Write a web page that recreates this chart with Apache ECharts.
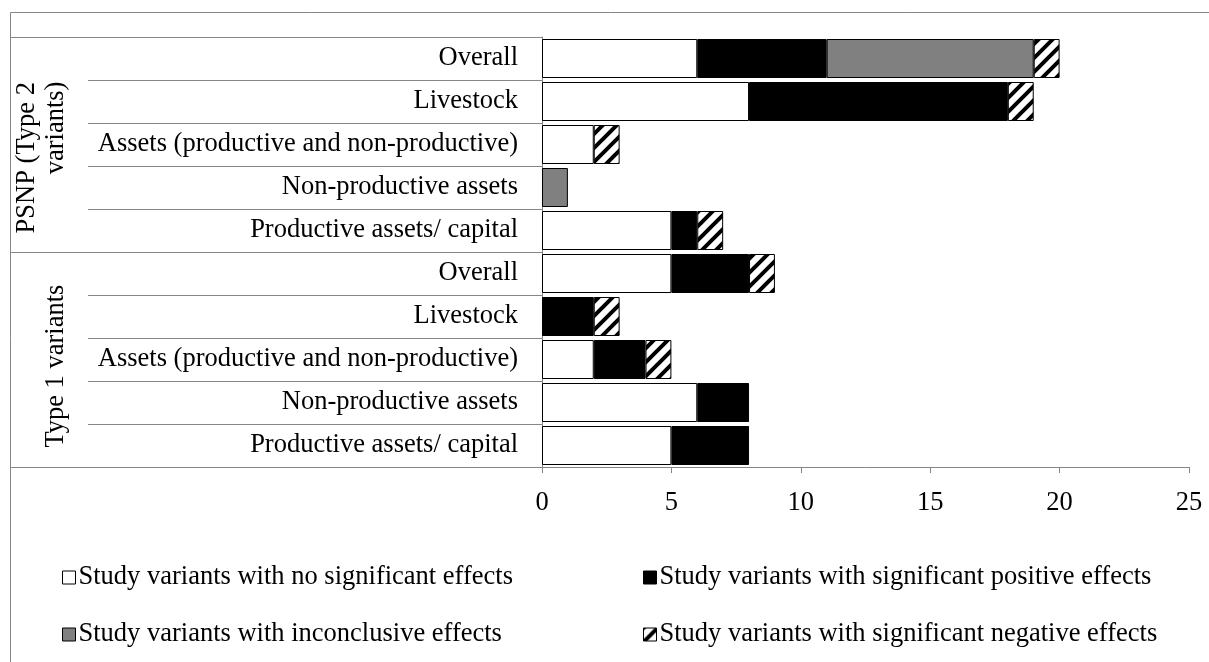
<!DOCTYPE html>
<html>
<head>
<meta charset="utf-8">
<script src="https://cdn.jsdelivr.net/npm/echarts@6/dist/echarts.min.js"></script>
<style>
  html, body { margin: 0; padding: 0; background: #fff; }
  #chart { width: 1209px; height: 662px; }
</style>
</head>
<body>
<div id="chart"></div>
<script>
// ---- data (top to bottom) ----
const categories = [
  'Overall', 'Livestock', 'Assets (productive and non-productive)', 'Non-productive assets', 'Productive assets/ capital',
  'Overall', 'Livestock', 'Assets (productive and non-productive)', 'Non-productive assets', 'Productive assets/ capital'
];
const NB = '\u00a0';
const groups = [
  'PSNP (Type 2' + NB.repeat(4) + '\n' + NB.repeat(9) + 'variants)' + NB.repeat(4),
  'Type 1 variants' + NB.repeat(2)
];
const seriesNames = [
  'Study variants with no significant effects',
  'Study variants with significant positive effects',
  'Study variants with inconclusive effects',
  'Study variants with significant negative effects'
];
const noSignificant = [6, 8, 2, 0, 5, 5, 0, 2, 6, 5];
const positive      = [5, 10, 0, 0, 1, 3, 2, 2, 2, 3];
const inconclusive  = [8, 0, 0, 1, 0, 0, 0, 0, 0, 0];
const negative      = [1, 1, 1, 0, 1, 1, 1, 1, 0, 0];
const xTicks = { min: 0, max: 25, interval: 5 };

const FONT = "'Liberation Serif', 'Times New Roman', serif";
const FS = 26.5;
const AXIS_GRAY = '#868686';

function hatchPattern() {
  const s = 14;
  const c = document.createElement('canvas');
  c.width = s; c.height = s;
  const g = c.getContext('2d');
  g.fillStyle = '#fff';
  g.fillRect(0, 0, s, s);
  g.strokeStyle = '#000';
  g.lineWidth = 4;
  g.beginPath();
  for (const k of [0, 1, 2]) {
    g.moveTo(k * s - s - 3, s + 3);
    g.lineTo(k * s + 3, -3);
  }
  g.stroke();
  return c;
}

const fills = ['#ffffff', '#000000', '#808080', { image: hatchPattern(), repeat: 'repeat' }];
const values = [noSignificant, positive, inconclusive, negative];

const chart = echarts.init(document.getElementById('chart'), null, { renderer: 'canvas' });

const series = values.map((arr, i) => ({
  name: seriesNames[i],
  type: 'bar',
  stack: 'total',
  barWidth: 39,
  yAxisIndex: 0,
  itemStyle: { color: fills[i], borderColor: '#000', borderWidth: 1 },
  emphasis: { disabled: true },
  data: arr.map(v => (v === 0 ? null : v))
}));

const legendPos = [
  { left: 62, top: 564 },
  { left: 643, top: 564 },
  { left: 62, top: 621 },
  { left: 643, top: 621 }
];
const legends = seriesNames.map((n, i) => ({
  data: [n],
  left: legendPos[i].left,
  top: legendPos[i].top,
  orient: 'horizontal',
  icon: 'rect',
  itemWidth: 13,
  itemHeight: 13,
  itemGap: 0,
  padding: 0,
  selectedMode: false,
  itemStyle: { borderColor: '#000', borderWidth: 1 },
  textStyle: { fontFamily: FONT, fontSize: FS, color: '#000', padding: [0, 0, 0, -2] }
}));

chart.setOption({
  animation: false,
  backgroundColor: '#fff',
  grid: { left: 542, right: 20, top: 37, bottom: 195, containLabel: false, outerBoundsMode: 'none' },
  legend: legends,
  xAxis: {
    type: 'value',
    min: xTicks.min, max: xTicks.max, interval: xTicks.interval,
    axisLine: { show: true, lineStyle: { color: AXIS_GRAY, width: 1 } },
    axisTick: { show: true, length: 6, lineStyle: { color: AXIS_GRAY } },
    splitLine: { show: false },
    axisLabel: { fontFamily: FONT, fontSize: FS, color: '#000', margin: 23 }
  },
  yAxis: [
    {
      type: 'category',
      inverse: true,
      data: categories,
      position: 'left',
      axisLine: { show: true, lineStyle: { color: AXIS_GRAY, width: 1 } },
      axisTick: { show: true, interval: 0, length: 454, lineStyle: { color: AXIS_GRAY } },
      splitLine: { show: false },
      axisLabel: { interval: 0, fontFamily: FONT, fontSize: FS, color: '#000', margin: 24 }
    },
    {
      type: 'category',
      inverse: true,
      data: groups,
      position: 'left',
      axisLine: { show: false },
      axisTick: { show: true, interval: 0, length: 532, lineStyle: { color: AXIS_GRAY } },
      splitLine: { show: false },
      axisLabel: { interval: 0, hideOverlap: false, fontFamily: FONT, fontSize: FS, color: '#000', rotate: 90, margin: 471, lineHeight: 29 }
    }
  ],
  graphic: [
    {
      type: 'rect',
      silent: true,
      shape: { x: 10.5, y: 12.5, width: 1300, height: 800 },
      style: { fill: null, stroke: AXIS_GRAY, lineWidth: 1 },
      z: -1
    }
  ],
  series: series
});
</script>
</body>
</html>
